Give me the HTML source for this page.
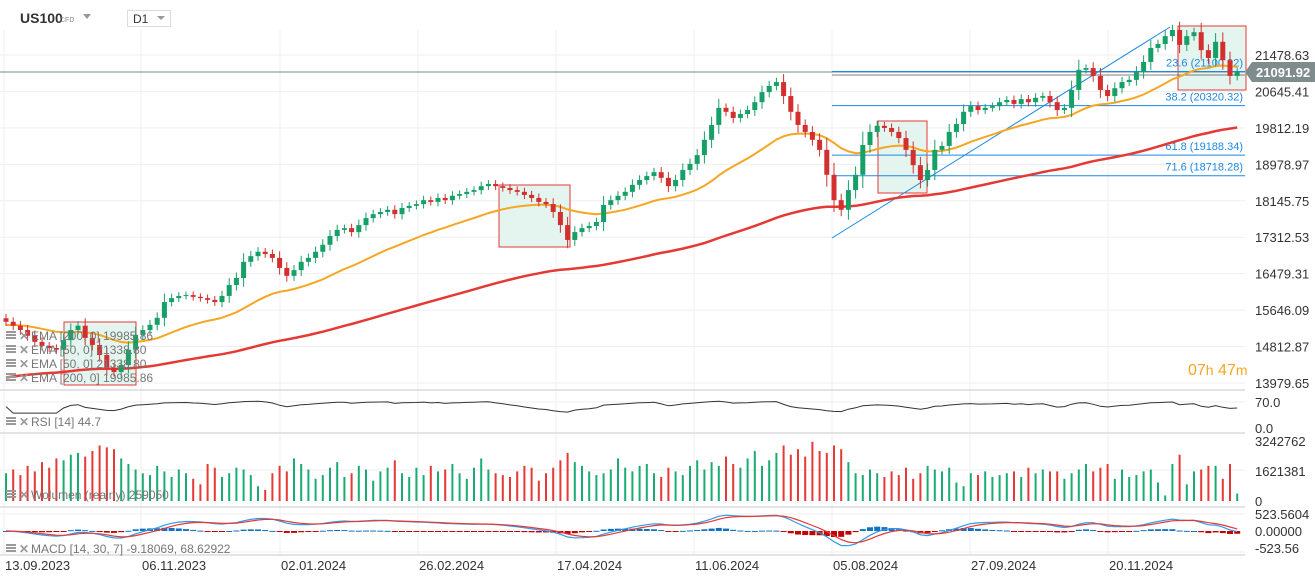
<!DOCTYPE html>
<html><head><meta charset="utf-8">
<style>
body{margin:0;background:#fff;overflow:hidden}
svg{display:block;font-family:"Liberation Sans",sans-serif}
</style></head>
<body>
<svg id="c" width="1315" height="582"></svg>
<script>
const closes=[15380,15290,15190,15060,14920,14830,14780,14740,14960,15190,15290,15010,14850,14620,14320,14230,14390,14740,15080,15190,15310,15470,15830,15920,15970,15990,15950,15920,15880,15830,15970,16220,16380,16750,16880,16980,16930,16840,16610,16430,16560,16750,16840,16980,17140,17340,17480,17520,17430,17590,17750,17840,17890,17940,17840,17980,18030,18070,18160,18120,18210,18160,18260,18300,18350,18390,18480,18530,18480,18440,18390,18350,18280,18210,18120,18070,17890,17590,17250,17430,17520,17570,17660,18050,18160,18260,18350,18510,18620,18710,18800,18670,18480,18620,18850,18990,19190,19540,19880,20270,20180,20040,20130,20220,20400,20630,20770,20860,20540,20180,19880,19720,19540,19310,18740,18160,17940,18390,18740,19420,19720,19860,19810,19720,19580,19310,18960,18620,18850,19310,19400,19720,19900,20180,20310,20220,20270,20310,20400,20450,20360,20470,20400,20500,20540,20400,20220,20270,20680,21140,21180,21000,20680,20540,20720,20860,20910,21090,21320,21640,21730,21910,22050,21710,21910,22000,21590,21410,21780,21360,21000,21090];
const volumes=[1500,1700,1400,1900,1600,2100,1800,2300,2200,2500,2600,2400,2700,3000,2900,2800,2300,2000,1700,1500,1400,1900,1600,1300,1700,1500,1200,900,2000,1800,1300,1500,1800,1700,1400,800,600,1500,1900,1600,2300,2000,1700,1200,1400,1800,2100,1300,1500,1900,1700,1100,1600,1800,2200,1500,1300,1800,1400,1900,1600,1700,2000,1500,1200,1800,2300,1700,1500,1400,1300,1600,1900,1800,1100,1500,1800,2200,2600,2100,1900,1600,1400,1500,1700,2300,1800,1600,1900,2000,1500,1300,1800,1600,1400,1900,2200,1700,2100,1900,2400,2000,1800,2300,2700,1900,2200,2600,3000,2500,2800,2400,3200,2700,2600,3000,2800,2100,1500,1400,1700,1500,1300,1600,1400,1800,1200,1500,1900,1700,1600,1800,1000,800,1500,1400,1600,1300,1400,1500,1600,1300,1800,1500,1700,1600,1600,1200,1500,1700,2000,1600,1800,2000,1200,1700,1300,1400,1600,1700,1000,300,2000,2500,900,1600,1700,1900,1900,1200,2000,400,1900,200];
const priceTicks=[21478.63,20645.41,19812.19,18978.97,18145.75,17312.53,16479.31,15646.09,14812.87,13979.65];
const dateLabels=["13.09.2023","06.11.2023","02.01.2024","26.02.2024","17.04.2024","11.06.2024","05.08.2024","27.09.2024","20.11.2024"];
const fibLevels=[23.6,38.2,61.8,71.6];
const fibPrices=[21100.92,20320.32,19188.34,18718.28];
const volTicks=[3242762,1621381,0];
const macdTicks=[523.5604,0,-523.56];

const NS="http://www.w3.org/2000/svg";
const svg=document.getElementById('c');
function el(t,a,p){const e=document.createElementNS(NS,t);for(const k in a)e.setAttribute(k,a[k]);(p||svg).appendChild(e);return e;}
const N=closes.length;
const xb=i=>6+i*7.2;
const yP=p=>55+(21478.63-p)*0.04374;
const yR=v=>428-v*26/70;
const yV=v=>501-v*1000*60/3242762;
const yM=v=>531-v*(17/523.56);

// grid
const gx=[4,141,280,418,556,694,832,970,1108];
gx.forEach(x=>{const l=el('line',{x1:x,y1:30,x2:x,y2:555,stroke:'#efefef'});});
priceTicks.forEach(p=>{const l=el('line',{x1:0,y1:yP(p),x2:1245,y2:yP(p),stroke:'#efefef'});});
[402,470,514,552].forEach(y=>el('line',{x1:0,y1:y,x2:1245,y2:y,stroke:'#efefef'}));
[390,433,507,555].forEach(y=>{const l=el('line',{x1:0,y1:y,x2:1245,y2:y,stroke:'#dcdcdc','stroke-width':1.5});});

// boxes
[[64,322,136,385],[499,185,570,247],[878,121,927,193],[1178,26,1246,90]].forEach(b=>{const r=el('rect',{x:b[0],y:b[1],width:b[2]-b[0],height:b[3]-b[1],fill:'#e3f5ee',stroke:'#e53935','stroke-width':1});});

// current price line
const cp=el('line',{x1:0,y1:72,x2:1245,y2:72,stroke:'#7b8a8b','stroke-width':1});


// fib lines
fibPrices.forEach((p,i)=>{
 const y=yP(p);
 const l=el('line',{x1:832,y1:y,x2:1245,y2:y,stroke:'#1e88e5','stroke-width':1});
 
 const t=el('text',{x:1243,y:y-5,'text-anchor':'end','font-size':11,fill:'#1e88e5'});
 t.textContent=fibLevels[i].toFixed(1)+' ('+p.toFixed(2)+')';
 
});
el('line',{x1:832,y1:75,x2:1245,y2:75,stroke:'#555','stroke-width':0.8});
const dg=el('line',{x1:832,y1:238,x2:1170,y2:27,stroke:'#1e88e5','stroke-width':1});


// EMAs
function ema(arr,n,seed){const k=2/(n+1);let e=seed;return arr.map(v=>(e=v*k+e*(1-k)));}
const e50=ema(closes,25,15300),e200=ema(closes,100,14080);
function path(vals,fy){return vals.map((v,i)=>(i?'L':'M')+xb(i).toFixed(1)+' '+fy(v).toFixed(1)).join('');}
const pe200=el('path',{d:path(e200,yP),fill:'none',stroke:'#e53935','stroke-width':2.5});

const pe50=el('path',{d:path(e50,yP),fill:'none',stroke:'#f5a623','stroke-width':2});


// candles
for(let i=0;i<N;i++){
 const c=closes[i],o=i?closes[i-1]:c+80,up=c>=o;
 const w=Math.abs(c-o)*0.35+70;
 const hi=Math.max(o,c)+w,lo=Math.min(o,c)-w;
 const col=up?'#16a067':'#d32f2f';
 const g=el('g',{});
 
 el('line',{x1:xb(i),y1:yP(hi),x2:xb(i),y2:yP(lo),stroke:col,'stroke-width':1},g);
 const t=Math.min(yP(o),yP(c)),h=Math.max(1,Math.abs(yP(o)-yP(c)));
 el('rect',{x:xb(i)-2.5,y:t,width:5,height:h,fill:col},g);
}

// RSI
const rsi=[];{let ag=0,al=0;const n=7;for(let i=0;i<N;i++){const d=i?closes[i]-closes[i-1]:0;const g=Math.max(d,0),l=Math.max(-d,0);ag=(ag*(n-1)+g)/n;al=(al*(n-1)+l)/n;rsi.push(al===0&&ag===0?50:100-100/(1+ag/(al||1e-6)));}}
const pr=el('path',{d:path(rsi.map(v=>40+v*0.35),yR),fill:'none',stroke:'#333','stroke-width':1});


// volume
for(let i=0;i<N;i++){
 const up=i?closes[i]>=closes[i-1]:true;
 const b=el('rect',{x:xb(i)-1,y:yV(volumes[i]),width:2,height:501-yV(volumes[i]),fill:up?'#1aab73':'#e53935'});
 
}

// MACD
const f=ema(closes,7,closes[0]),s=ema(closes,15,closes[0]);
const macd=f.map((v,i)=>v-s[i]),sig=ema(macd,4,0);
for(let i=0;i<N;i++){
 const h=macd[i]-sig[i],y=yM(h);
 const b=el('rect',{x:xb(i)-3,y:Math.min(y,531),width:6,height:Math.max(1,Math.abs(y-531)),fill:h>=0?'#1272c2':'#c40000'});
 
}
const pm=el('path',{d:path(macd,yM),fill:'none',stroke:'#2e9be8','stroke-width':1.2});

const ps=el('path',{d:path(sig,yM),fill:'none',stroke:'#e53935','stroke-width':1.2});


// axes labels
priceTicks.forEach(p=>{const t=el('text',{x:1255,y:yP(p)+5,'font-size':13,fill:'#333'});t.textContent=p.toFixed(2);});
[[70,'70.0'],[0,'0.0']].forEach(a=>{const t=el('text',{x:1255,y:yR(a[0])+5,'font-size':13,fill:'#333'});t.textContent=a[1];});
volTicks.forEach(v=>{const t=el('text',{x:1255,y:yV(v/1000)+5,'font-size':13,fill:'#333'});t.textContent=String(v);});
macdTicks.forEach(v=>{const t=el('text',{x:1255,y:yM(v)+5,'font-size':13,fill:'#333'});t.textContent=v===0?'0.00000':String(v);});
dateLabels.forEach((d,i)=>{const t=el('text',{x:gx[i]+1,y:570,'font-size':13,fill:'#333'});t.textContent=d;});

// price tag
const tag=el('path',{d:'M1245 72 L1252 62 L1315 62 L1315 82 L1252 82 Z',fill:'#7f8c8d'});

const tt=el('text',{x:1256,y:77,'font-size':13,'font-weight':'bold',fill:'#fff'});tt.textContent='21091.92';

// countdown
const cd=el('text',{x:1188,y:375,'font-size':16,fill:'#f5a623'});
cd.innerHTML='07<tspan font-size="14">h</tspan> 47<tspan font-size="14">m</tspan>';


// legends
function legend(y,txt,name){
 const g=el('g',{});
 [0,3,6].forEach(d=>el('rect',{x:6,y:y-9+d,width:10,height:2,fill:'#999'},g));
 const x=el('text',{x:19,y:y,'font-size':12,'font-weight':'bold',fill:'#999'},g);x.textContent='✕';
 const t=el('text',{x:31,y:y,'font-size':12,fill:'#777'},g);t.textContent=txt;
}
legend(340,'EMA  [200, 0]  19985.86','legend-ema-200');
legend(354,'EMA  [50, 0]  21338.80','legend-ema-50-a');
legend(368,'EMA  [50, 0]  21338.80','legend-ema-50');
legend(382,'EMA  [200, 0]  19985.86','legend-ema-200-b');
legend(426,'RSI  [14]  44.7','legend-rsi');
legend(499,'Wolumen  (realny)  259050','legend-volume');
legend(553,'MACD  [14, 30, 7]  -9.18069,  68.62922','legend-macd');

// header
const sym=el('text',{x:20,y:23,'font-size':14,'font-weight':'bold',fill:'#333'});sym.textContent='US100';

const cfd=el('text',{x:60,y:22,'font-size':7,fill:'#888'});cfd.textContent='CFD';
el('path',{d:'M83 14 L91 14 L87 19 Z',fill:'#999'});
const tf=el('rect',{x:127.5,y:10.5,width:43,height:16,fill:'#fff',stroke:'#ddd'});

const d1=el('text',{x:133,y:23,'font-size':12,fill:'#333'});d1.textContent='D1';
el('path',{d:'M157 16 L165 16 L161 20 Z',fill:'#999'});
</script>
</body></html>
